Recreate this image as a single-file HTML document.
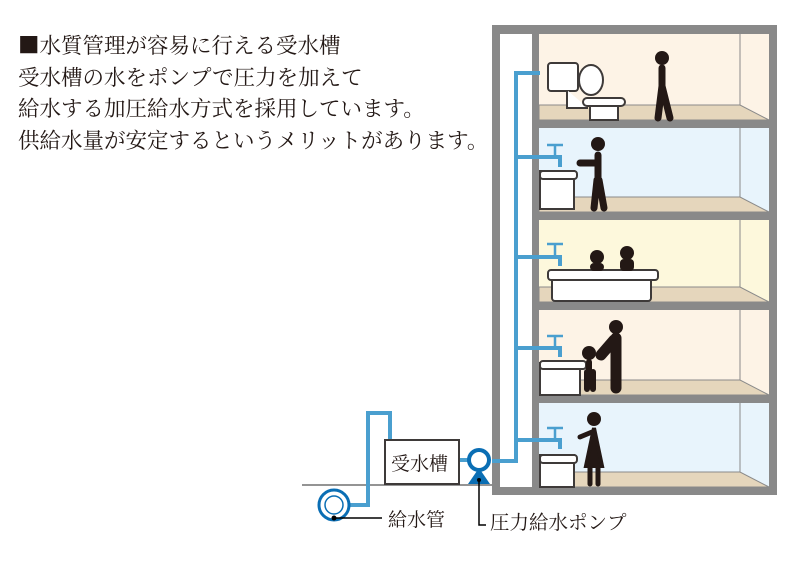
<!DOCTYPE html>
<html><head><meta charset="utf-8"><style>
body{margin:0;background:#fff;width:800px;height:562px;overflow:hidden;font-family:"Liberation Sans","Noto Sans CJK JP",sans-serif}
</style></head><body>
<svg width="800" height="562" viewBox="0 0 800 562" xmlns="http://www.w3.org/2000/svg" style="position:absolute;left:0;top:0">
<g font-family="'Noto Serif CJK SC','Noto Sans CJK JP',serif" fill="#231815">
<text x="18" y="53" font-size="21.5">■水質管理が容易に行える受水槽</text>
<text x="18" y="85" font-size="21.5">受水槽の水をポンプで圧力を加えて</text>
<text x="18" y="116" font-size="21.5">給水する加圧給水方式を採用しています。</text>
<text x="18" y="148" font-size="21.5">供給水量が安定するというメリットがあります。</text>
</g>
<!-- rooms -->
<rect x="539" y="34" width="230" height="86" fill="#fdf3e6"/>
<rect x="539" y="128" width="230" height="84" fill="#e8f4fc"/>
<rect x="539" y="220" width="230" height="82" fill="#fdf8dc"/>
<rect x="539" y="310" width="230" height="85" fill="#fdf3e6"/>
<rect x="539" y="403" width="230" height="84" fill="#e8f4fc"/>
<g fill="#e5d6bc" stroke="#8a8a8a" stroke-width="1">
<path d="M539 105 H740 L769 120 H539Z"/>
<path d="M539 197 H740 L769 212 H539Z"/>
<path d="M539 287 H740 L769 302 H539Z"/>
<path d="M539 380 H740 L769 395 H539Z"/>
<path d="M539 472 H740 L769 487 H539Z"/>
</g>
<g stroke="#8a8a8a" stroke-width="1">
<line x1="740" y1="34" x2="740" y2="105"/><line x1="740" y1="128" x2="740" y2="197"/>
<line x1="740" y1="220" x2="740" y2="287"/><line x1="740" y1="310" x2="740" y2="380"/>
<line x1="740" y1="403" x2="740" y2="472"/>
</g>
<!-- frame -->
<g fill="#898989">
<rect x="492" y="25" width="285" height="9"/>
<rect x="492" y="25" width="8" height="470"/>
<rect x="769" y="25" width="8" height="470"/>
<rect x="532" y="25" width="7" height="470"/>
<rect x="532" y="120" width="245" height="8"/>
<rect x="532" y="212" width="245" height="8"/>
<rect x="532" y="302" width="245" height="8"/>
<rect x="532" y="395" width="245" height="8"/>
<rect x="492" y="487" width="285" height="8"/>
</g>
<!-- ground -->
<line x1="302" y1="485" x2="492" y2="485" stroke="#555" stroke-width="1.2"/>
<!-- pipes -->
<g stroke="#4a9fcf" stroke-width="4" fill="none">
<path d="M340 505 H368 V413 H390 V445"/>
<path d="M456 460 H468"/>
<path d="M492 461 H516 V73 H540"/>
<path d="M516 157 H560 V167"/><path d="M516 257 H560 V266"/>
<path d="M516 348 H560 V357"/><path d="M516 440 H560 V449"/>
</g>
<g stroke="#4a9fcf" stroke-width="2.5">
<line x1="547" y1="145" x2="563" y2="145"/><line x1="555" y1="145" x2="555" y2="157"/>
<line x1="547" y1="244" x2="563" y2="244"/><line x1="555" y1="244" x2="555" y2="257"/>
<line x1="547" y1="336" x2="563" y2="336"/><line x1="555" y1="336" x2="555" y2="348"/>
<line x1="547" y1="428" x2="563" y2="428"/><line x1="555" y1="428" x2="555" y2="440"/>
</g>
<!-- tank -->
<rect x="385" y="440" width="74" height="44" fill="#fff" stroke="#3e3a39" stroke-width="2"/>
<text x="391" y="470" font-size="19" fill="#231815" font-family="'Noto Serif CJK SC',serif">受水槽</text>
<!-- pump -->
<circle cx="479" cy="460" r="10" fill="#fff" stroke="#0a6eb4" stroke-width="4"/>
<path d="M468 484 L479 468 L490 484Z" fill="#0a6eb4"/>
<circle cx="479" cy="480" r="2" fill="#000"/>
<path d="M479 480 V525 H486" stroke="#000" stroke-width="1.5" fill="none"/>
<!-- supply pipe -->
<circle cx="334" cy="505" r="15" fill="#fff" stroke="#0a6eb4" stroke-width="3"/>
<circle cx="334" cy="505" r="9" fill="none" stroke="#0a6eb4" stroke-width="1.5"/>
<circle cx="334" cy="518" r="2.5" fill="#000"/>
<line x1="334" y1="518" x2="382" y2="518" stroke="#000" stroke-width="1.5"/>
<g font-family="'Noto Serif CJK SC',serif" fill="#231815">
<text x="388" y="526" font-size="19">給水管</text>
<text x="490" y="529" font-size="19.5">圧力給水ポンプ</text>
</g>
<!-- fixtures -->
<g fill="#fff" stroke="#3e3a39" stroke-width="2">
<rect x="548" y="63" width="30" height="28" rx="3"/>
<path d="M567 90 V108 H588"/>
<ellipse cx="591" cy="80" rx="12" ry="15"/>
<rect x="590" y="100" width="28" height="20"/>
<rect x="583" y="98" width="42" height="8" rx="4"/>
<rect x="540" y="171" width="34" height="38"/><rect x="540" y="171" width="37" height="8" rx="3"/>
<rect x="552" y="277" width="99" height="24" rx="3"/><rect x="548" y="270" width="110" height="10" rx="3"/>
<rect x="540" y="363" width="40" height="32"/><rect x="540" y="361" width="46" height="8" rx="3"/>
<rect x="540" y="455" width="34" height="32"/><rect x="540" y="455" width="37" height="8" rx="3"/>
</g>
<!-- people -->
<g fill="#231815" stroke="#231815" stroke-linecap="round">
<circle cx="662" cy="58" r="7" stroke="none"/>
<path d="M662 68 V86 M662 86 L658 118 M662 86 L670 118" stroke-width="7" fill="none"/>
<circle cx="598" cy="144" r="7" stroke="none"/>
<path d="M598 155 V180 M580 163 H596 M597 180 L594 208 M599 180 L604 208" stroke-width="7" fill="none"/>
<circle cx="597" cy="257" r="7" stroke="none"/><rect x="590" y="263" width="14" height="8" rx="4" stroke="none"/>
<circle cx="627" cy="253" r="7" stroke="none"/><rect x="620" y="259" width="14" height="12" rx="4" stroke="none"/>
<circle cx="616" cy="327" r="7" stroke="none"/>
<path d="M616 338 V388 M614 340 L601 355" stroke-width="11" fill="none"/>
<circle cx="589" cy="353" r="7" stroke="none"/>
<path d="M589 362 V372 M587 372 V389 M593 372 V389" stroke-width="6" fill="none"/>
<circle cx="594" cy="419" r="7" stroke="none"/>
<path d="M594 428 L602 466 H586 Z" stroke-width="4"/>
<path d="M592 432 L580 437 M590 466 V484 M598 466 V484" stroke-width="5" fill="none"/>
</g>
</svg>
</body></html>
